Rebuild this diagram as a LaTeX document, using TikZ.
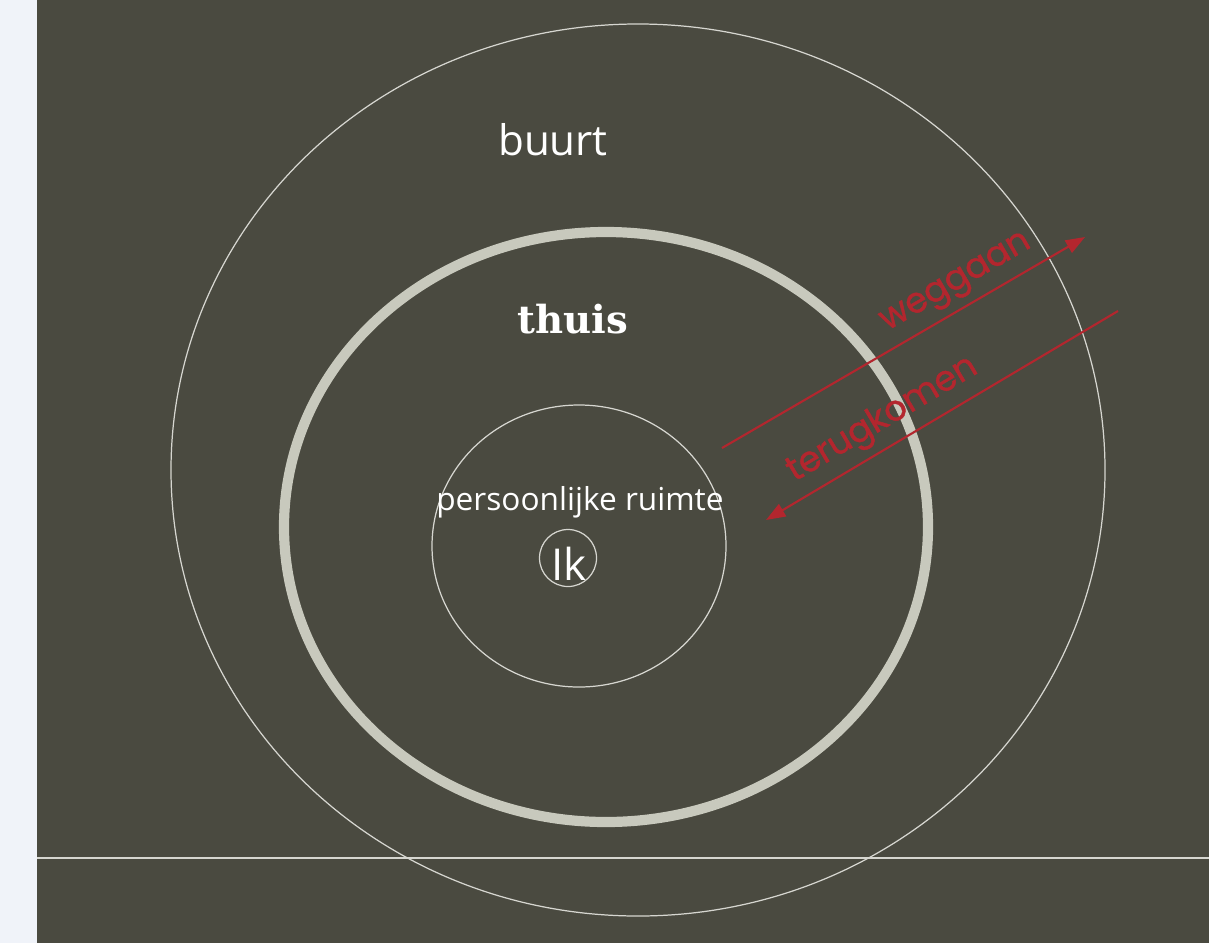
\documentclass[tikz,border=0pt]{standalone}
\usepackage{fontspec}
\setmainfont{Open Sans}
\newfontfamily\thuisfont{DejaVu Serif}
\newfontfamily\arrowfont[FakeBold=1.2]{Poppins}
\usetikzlibrary{arrows.meta,positioning,calc}

\definecolor{board}{HTML}{4A4A40}
\definecolor{ringgray}{HTML}{C8C9BD}
\definecolor{thinline}{HTML}{D6D6D0}
\definecolor{arrowred}{HTML}{B3262E}
\definecolor{sidestrip}{HTML}{F0F3F9}

\begin{document}
\begin{tikzpicture}[
    x=0.02cm, y=-0.02cm,
    circle line/.style={draw=thinline, line width=0.7pt},
    home ring/.style={draw=ringgray, line width=5.8pt},
    label/.style={text=white, inner sep=0pt, anchor=base},
    arrowline/.style={draw=arrowred, line width=1.2pt},
    arrowlabel/.style={text=arrowred, font=\arrowfont\fontsize{20}{23}\selectfont, sloped, above=1pt}
]

% Background
\useasboundingbox (0,0) rectangle (1209,943);
\fill[sidestrip] (0,0) rectangle (37,943);
\fill[board] (37,0) rectangle (1209,943);
\draw[thinline, line width=0.8pt] (37,858) -- (1209,858);

% Rings
\draw[circle line] (638,470) ellipse [x radius=467, y radius=446];
\draw[home ring] (606,527) ellipse [x radius=322, y radius=295];
\draw[circle line] (579,546) ellipse [x radius=147, y radius=141];
\draw[circle line] (568,558) circle [radius=28.5];

% Labels
\node[label, font=\fontsize{24}{28}\selectfont] (buurt) at (553,155) {buurt};
\node[label, font=\thuisfont\bfseries\fontsize{22}{26}\selectfont] (thuis) at (573,333) {thuis};
\node[label, font=\fontsize{18}{21}\selectfont] (ruimte) at (580,510) {persoonlijke ruimte};
\node[label, font=\fontsize{25}{28}\selectfont] (ik) at (569,580) {Ik};

% Arrows
\coordinate (leaveFrom) at (722,448);
\coordinate (leaveTo) at (1085,237);
\coordinate (backFrom) at (1118,311);
\coordinate (backTo) at (766,520);

\draw[arrowline, -{Triangle[length=11pt, width=8pt]}] (leaveFrom) -- node[arrowlabel, pos=0.68] {weggaan} (leaveTo);
\draw[arrowline, {Triangle[length=11pt, width=8pt]}-] (backTo) -- node[arrowlabel, pos=0.37] {terugkomen} (backFrom);

\end{tikzpicture}
\end{document}
